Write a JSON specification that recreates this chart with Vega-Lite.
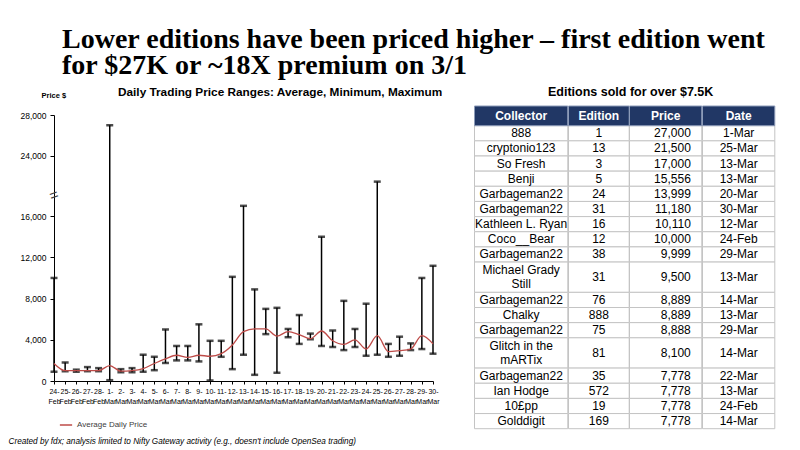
{
  "$schema": "https://vega.github.io/schema/vega-lite/v6.json",
  "background": "white",
  "padding": {"left": 8, "top": 26, "right": 5, "bottom": 2},
  "title": {
    "text": ["Lower editions have been priced higher – first edition went", "for $27K or ~18X premium on 3/1"],
    "font": "Liberation Serif", "fontSize": 28, "fontWeight": "bold", "color": "#000000",
    "anchor": "start", "dx": 54, "lineHeight": 26, "offset": 6
  },
  "datasets": {
    "daily": [
      {"Date": "24-Feb", "Min": 900, "Max": 10000, "Average": 1700},
      {"Date": "25-Feb", "Min": 950, "Max": 1800, "Average": 1000},
      {"Date": "26-Feb", "Min": 900, "Max": 1100, "Average": 1000},
      {"Date": "27-Feb", "Min": 950, "Max": 1350, "Average": 1000},
      {"Date": "28-Feb", "Min": 950, "Max": 1250, "Average": 1000},
      {"Date": "1-Mar", "Min": 80, "Max": 27000, "Average": 1500},
      {"Date": "2-Mar", "Min": 850, "Max": 1150, "Average": 950},
      {"Date": "3-Mar", "Min": 850, "Max": 1250, "Average": 1000},
      {"Date": "4-Mar", "Min": 900, "Max": 2550, "Average": 1200},
      {"Date": "5-Mar", "Min": 1050, "Max": 2350, "Average": 1700},
      {"Date": "6-Mar", "Min": 1750, "Max": 5000, "Average": 2150},
      {"Date": "7-Mar", "Min": 2000, "Max": 3400, "Average": 2500},
      {"Date": "8-Mar", "Min": 2000, "Max": 3400, "Average": 2300},
      {"Date": "9-Mar", "Min": 1900, "Max": 5500, "Average": 2500},
      {"Date": "10-Mar", "Min": 50, "Max": 3900, "Average": 2400},
      {"Date": "11-Mar", "Min": 2350, "Max": 3900, "Average": 2650},
      {"Date": "12-Mar", "Min": 1150, "Max": 10110, "Average": 3500},
      {"Date": "13-Mar", "Min": 2550, "Max": 17000, "Average": 4800},
      {"Date": "14-Mar", "Min": 600, "Max": 8889, "Average": 5050},
      {"Date": "15-Mar", "Min": 4550, "Max": 7000, "Average": 5050},
      {"Date": "16-Mar", "Min": 800, "Max": 7100, "Average": 4350},
      {"Date": "17-Mar", "Min": 4250, "Max": 5050, "Average": 4800},
      {"Date": "18-Mar", "Min": 3600, "Max": 6400, "Average": 4500},
      {"Date": "19-Mar", "Min": 4050, "Max": 4600, "Average": 4100},
      {"Date": "20-Mar", "Min": 3400, "Max": 13999, "Average": 4850},
      {"Date": "21-Mar", "Min": 3300, "Max": 4900, "Average": 3900},
      {"Date": "22-Mar", "Min": 3000, "Max": 7778, "Average": 3550},
      {"Date": "23-Mar", "Min": 3300, "Max": 5050, "Average": 4000},
      {"Date": "24-Mar", "Min": 2450, "Max": 7500, "Average": 3100},
      {"Date": "25-Mar", "Min": 2550, "Max": 21500, "Average": 4400},
      {"Date": "26-Mar", "Min": 2350, "Max": 3600, "Average": 2850},
      {"Date": "27-Mar", "Min": 2450, "Max": 4300, "Average": 2950},
      {"Date": "28-Mar", "Min": 3000, "Max": 3650, "Average": 3100},
      {"Date": "29-Mar", "Min": 3100, "Max": 9999, "Average": 4400},
      {"Date": "30-Mar", "Min": 2650, "Max": 11180, "Average": 3600}
    ],
    "sales": [
      {"Collector": "888", "Edition": 1, "Price": 27000, "Date": "1-Mar"},
      {"Collector": "cryptonio123", "Edition": 13, "Price": 21500, "Date": "25-Mar"},
      {"Collector": "So Fresh", "Edition": 3, "Price": 17000, "Date": "13-Mar"},
      {"Collector": "Benji", "Edition": 5, "Price": 15556, "Date": "13-Mar"},
      {"Collector": "Garbageman22", "Edition": 24, "Price": 13999, "Date": "20-Mar"},
      {"Collector": "Garbageman22", "Edition": 31, "Price": 11180, "Date": "30-Mar"},
      {"Collector": "Kathleen L. Ryan", "Edition": 16, "Price": 10110, "Date": "12-Mar"},
      {"Collector": "Coco__Bear", "Edition": 12, "Price": 10000, "Date": "24-Feb"},
      {"Collector": "Garbageman22", "Edition": 38, "Price": 9999, "Date": "29-Mar"},
      {"Collector": "Michael Grady\nStill", "Edition": 31, "Price": 9500, "Date": "13-Mar"},
      {"Collector": "Garbageman22", "Edition": 76, "Price": 8889, "Date": "14-Mar"},
      {"Collector": "Chalky", "Edition": 888, "Price": 8889, "Date": "13-Mar"},
      {"Collector": "Garbageman22", "Edition": 75, "Price": 8888, "Date": "29-Mar"},
      {"Collector": "Glitch in the\nmARTix", "Edition": 81, "Price": 8100, "Date": "14-Mar"},
      {"Collector": "Garbageman22", "Edition": 35, "Price": 7778, "Date": "22-Mar"},
      {"Collector": "Ian Hodge", "Edition": 572, "Price": 7778, "Date": "13-Mar"},
      {"Collector": "10£pp", "Edition": 19, "Price": 7778, "Date": "24-Feb"},
      {"Collector": "Golddigit", "Edition": 169, "Price": 7778, "Date": "14-Mar"}
    ]
  },
  "spacing": 30.5,
  "hconcat": [
    {
      "width": 379,
      "height": 275,
      "title": {"text": "Daily Trading Price Ranges: Average, Minimum, Maximum", "font": "Liberation Sans", "fontSize": 11.8, "fontWeight": "bold", "color": "#000000", "anchor": "start", "frame": "group", "dx": 64, "offset": -8},
      "data": {"name": "daily"},
      "encoding": {
        "x": {
          "field": "Date", "type": "ordinal", "sort": null,
          "scale": {"type": "point", "padding": 0},
          "axis": {
            "title": "Created by fdx; analysis limited to Nifty Gateway activity (e.g., doesn't include OpenSea trading)",
            "titleFont": "Liberation Sans", "titleFontStyle": "italic", "titleFontWeight": "normal", "titleFontSize": 8.2, "titleColor": "#000000",
            "titleX": -46, "titleY": 62, "titleAlign": "left", "titleAnchor": "start", "titleBaseline": "alphabetic",
            "labelAngle": 0, "labelFontSize": 7, "labelColor": "#000000", "labelLineHeight": 10,
            "labelExpr": "[split(datum.label, '-')[0] + '-', split(datum.label, '-')[1]]",
            "labelPadding": 3, "labelOverlap": false, "labelBound": false, "labelFlush": false,
            "tickSize": 3, "tickColor": "#000000", "domainColor": "#000000"
          }
        }
      },
      "layer": [
        {
          "mark": {"type": "rule", "color": "#000000", "strokeWidth": 1.5},
          "encoding": {
            "y": {
              "field": "Min", "type": "quantitative",
              "scale": {"domain": [0, 18050, 20195, 28000], "range": [275, 89, 89, 9], "nice": false, "zero": false},
              "axis": {
                "values": [0, 4000, 8000, 12000, 16000, 24000, 28000], "format": ",.0f",
                "title": "Price $", "titleAngle": 0, "titleX": -13, "titleY": -7, "titleAlign": "left", "titleBaseline": "bottom",
                "titleFontSize": 7.5, "titleFontWeight": "bold", "titleColor": "#000000",
                "labelFontSize": 8.5, "labelColor": "#000000", "labelPadding": 4,
                "tickSize": 4, "tickColor": "#000000", "domainColor": "#000000"
              }
            },
            "y2": {"field": "Max"}
          }
        },
        {
          "mark": {"type": "tick", "color": "#000000", "thickness": 2.5, "size": 7},
          "encoding": {"y": {"field": "Min", "type": "quantitative"}}
        },
        {
          "mark": {"type": "tick", "color": "#000000", "thickness": 2.5, "size": 7},
          "encoding": {"y": {"field": "Max", "type": "quantitative"}}
        },
        {
          "mark": {"type": "line", "interpolate": "monotone", "strokeWidth": 1.3},
          "encoding": {
            "y": {"field": "Average", "type": "quantitative"},
            "color": {
              "datum": "Average  Daily Price",
              "scale": {"range": ["#BE4B48"]},
              "legend": {"title": null, "orient": "none", "legendX": 5, "legendY": 312, "symbolType": "stroke", "symbolSize": 150, "symbolStrokeWidth": 1.5, "labelFontSize": 8, "labelColor": "#404040", "labelFont": "Liberation Sans"}
            }
          }
        },
        {
          "data": {"values": [{"Mark": "axis break"}]},
          "mark": {"type": "text", "text": "=", "angle": 340, "fontSize": 15, "color": "#404040", "baseline": "middle", "align": "center"},
          "encoding": {"x": {"datum": "24-Feb"}, "y": {"datum": 19100}}
        }
      ]
    },
    {
      "title": {"text": "Editions sold for over $7.5K", "font": "Liberation Sans", "fontSize": 12.5, "fontWeight": "bold", "color": "#000000", "offset": 7, "dx": 6, "anchor": "middle"},
      "data": {"name": "sales"},
      "transform": [
        {"calculate": "length(split(datum.Collector, '\\n'))", "as": "Lines"},
        {"window": [{"op": "sum", "field": "Lines", "as": "LineEnd"}]},
        {"calculate": "datum.LineEnd - datum.Lines + 1.3", "as": "RowTop"},
        {"calculate": "datum.LineEnd + 1.3", "as": "RowBottom"},
        {"calculate": "(datum.RowTop + datum.RowBottom) / 2", "as": "RowMid"},
        {"calculate": "datum.RowMid - (datum.Lines - 1) * 0.445", "as": "TextTop"}
      ],
      "spacing": 0,
      "bounds": "flush",
      "hconcat": [
        {
          "width": 93.3, "height": 322.7,
          "layer": [
            {"mark": {"type": "rect", "fill": "white", "stroke": "#C4C4C4", "strokeWidth": 1},
             "encoding": {"y": {"field": "RowTop", "type": "quantitative", "scale": {"domain": [0, 21.3], "reverse": true, "nice": false, "zero": false}, "axis": null}, "y2": {"field": "RowBottom"}}},
            {"mark": {"type": "text", "fontSize": 12, "color": "#000000", "lineBreak": "\n", "lineHeight": 13.5, "baseline": "middle", "font": "Liberation Sans"},
             "encoding": {"y": {"field": "TextTop", "type": "quantitative"}, "text": {"field": "Collector", "type": "nominal"}}},
            {"data": {"values": [{"Header": "Collector"}]}, "mark": {"type": "rect", "fill": "#213765", "stroke": "#8C9BB8", "strokeWidth": 1},
             "encoding": {"y": {"datum": 0}, "y2": {"datum": 1.3}}},
            {"data": {"values": [{"Header": "Collector"}]}, "mark": {"type": "text", "fontSize": 12, "fontWeight": "bold", "color": "white", "baseline": "middle", "font": "Liberation Sans"},
             "encoding": {"y": {"datum": 0.65}, "text": {"field": "Header", "type": "nominal"}}}
          ]
        },
        {
          "width": 60.7, "height": 322.7,
          "layer": [
            {"mark": {"type": "rect", "fill": "white", "stroke": "#C4C4C4", "strokeWidth": 1},
             "encoding": {"y": {"field": "RowTop", "type": "quantitative", "scale": {"domain": [0, 21.3], "reverse": true, "nice": false, "zero": false}, "axis": null}, "y2": {"field": "RowBottom"}}},
            {"mark": {"type": "text", "fontSize": 12, "color": "#000000", "baseline": "middle", "font": "Liberation Sans"},
             "encoding": {"y": {"field": "RowMid", "type": "quantitative"}, "text": {"field": "Edition", "type": "nominal"}}},
            {"data": {"values": [{"Header": "Edition"}]}, "mark": {"type": "rect", "fill": "#213765", "stroke": "#8C9BB8", "strokeWidth": 1},
             "encoding": {"y": {"datum": 0}, "y2": {"datum": 1.3}}},
            {"data": {"values": [{"Header": "Edition"}]}, "mark": {"type": "text", "fontSize": 12, "fontWeight": "bold", "color": "white", "baseline": "middle", "font": "Liberation Sans"},
             "encoding": {"y": {"datum": 0.65}, "text": {"field": "Header", "type": "nominal"}}}
          ]
        },
        {
          "width": 72.3, "height": 322.7,
          "layer": [
            {"mark": {"type": "rect", "fill": "white", "stroke": "#C4C4C4", "strokeWidth": 1},
             "encoding": {"y": {"field": "RowTop", "type": "quantitative", "scale": {"domain": [0, 21.3], "reverse": true, "nice": false, "zero": false}, "axis": null}, "y2": {"field": "RowBottom"}}},
            {"mark": {"type": "text", "fontSize": 12, "color": "#000000", "baseline": "middle", "align": "right", "dx": -11, "font": "Liberation Sans"},
             "encoding": {"x": {"value": "width"}, "y": {"field": "RowMid", "type": "quantitative"}, "text": {"field": "Price", "type": "quantitative", "format": ","}}},
            {"data": {"values": [{"Header": "Price"}]}, "mark": {"type": "rect", "fill": "#213765", "stroke": "#8C9BB8", "strokeWidth": 1},
             "encoding": {"y": {"datum": 0}, "y2": {"datum": 1.3}}},
            {"data": {"values": [{"Header": "Price"}]}, "mark": {"type": "text", "fontSize": 12, "fontWeight": "bold", "color": "white", "baseline": "middle", "font": "Liberation Sans"},
             "encoding": {"y": {"datum": 0.65}, "text": {"field": "Header", "type": "nominal"}}}
          ]
        },
        {
          "width": 72.3, "height": 322.7,
          "layer": [
            {"mark": {"type": "rect", "fill": "white", "stroke": "#C4C4C4", "strokeWidth": 1},
             "encoding": {"y": {"field": "RowTop", "type": "quantitative", "scale": {"domain": [0, 21.3], "reverse": true, "nice": false, "zero": false}, "axis": null}, "y2": {"field": "RowBottom"}}},
            {"mark": {"type": "text", "fontSize": 12, "color": "#000000", "baseline": "middle", "font": "Liberation Sans"},
             "encoding": {"y": {"field": "RowMid", "type": "quantitative"}, "text": {"field": "Date", "type": "nominal"}}},
            {"data": {"values": [{"Header": "Date"}]}, "mark": {"type": "rect", "fill": "#213765", "stroke": "#8C9BB8", "strokeWidth": 1},
             "encoding": {"y": {"datum": 0}, "y2": {"datum": 1.3}}},
            {"data": {"values": [{"Header": "Date"}]}, "mark": {"type": "text", "fontSize": 12, "fontWeight": "bold", "color": "white", "baseline": "middle", "font": "Liberation Sans"},
             "encoding": {"y": {"datum": 0.65}, "text": {"field": "Header", "type": "nominal"}}}
          ]
        }
      ]
    }
  ],
  "config": {
    "font": "Liberation Sans",
    "view": {"stroke": null},
    "axis": {"grid": false}
  }
}
